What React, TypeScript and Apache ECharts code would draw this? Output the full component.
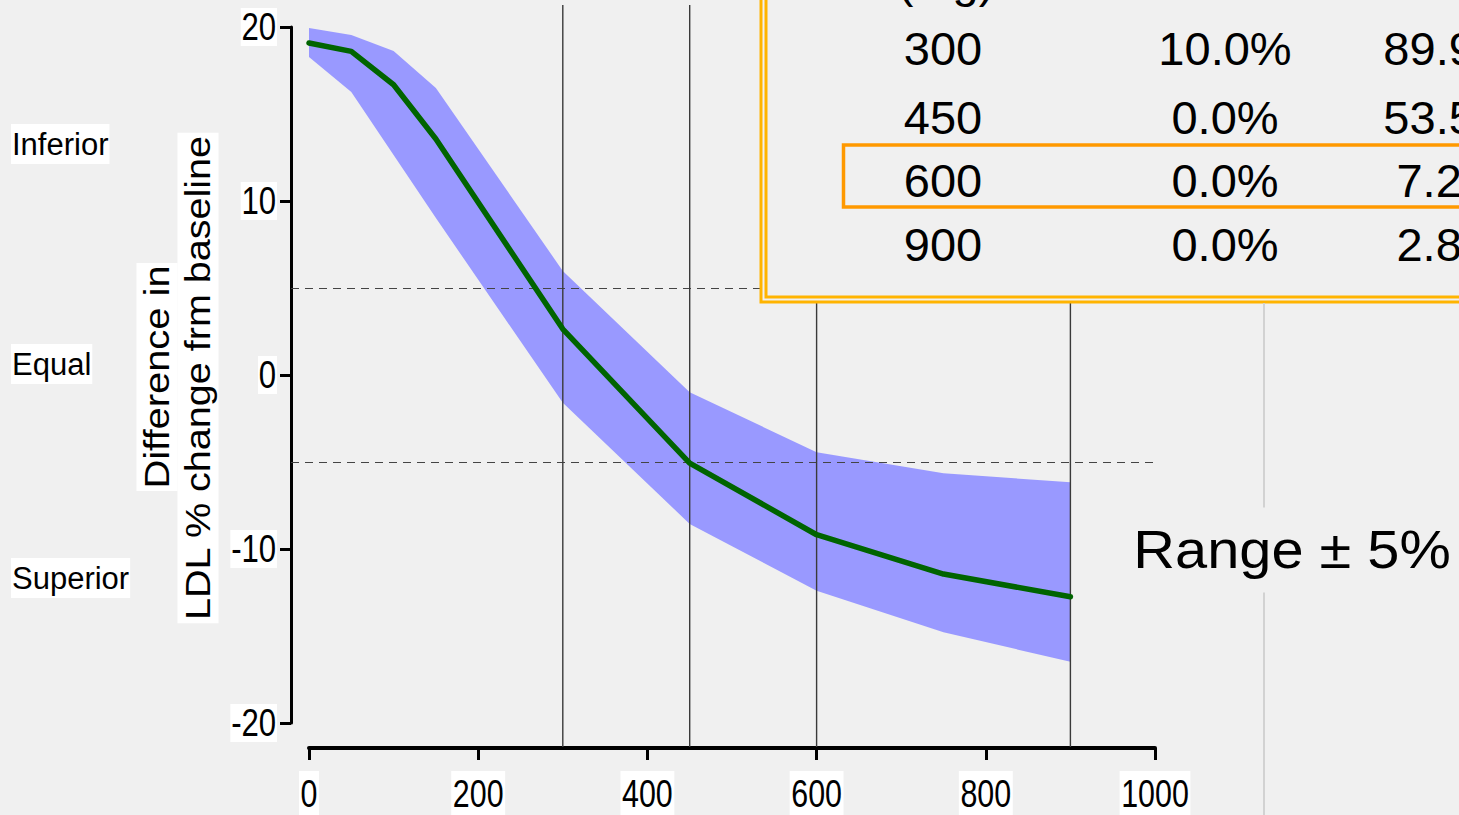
import React, { useEffect, useRef } from "react";
import * as echarts from "echarts";

// ---- data ----
const doses = [0, 50, 100, 150, 300, 450, 600, 750, 900];
const meanDiff = [19.08, 18.6, 16.68, 13.56, 2.64, -5.06, -9.18, -11.44, -12.74];
const upperBound = [19.94, 19.54, 18.62, 16.49, 5.98, -0.99, -4.44, -5.65, -6.17];
const lowerBound = [18.28, 16.26, 12.64, 9.02, -1.6, -8.56, -12.4, -14.79, -16.48];
const refLines = [5, -5];
const doseMarkers = [300, 450, 600, 900];

const xTicks = [0, 200, 400, 600, 800, 1000];
const xTickLabels = ["0", "200", "400", "600", "800", "1000"];
const yTicks = [-20, -10, 0, 10, 20];
const yTickLabels = ["-20", "-10", "0", "10", "20"];

const sideLabels = ["Inferior", "Equal", "Superior"];
const yTitleLines = ["Difference in", "LDL % change frm baseline"];
const rangeText = "Range \u00B1 5%";

const tableHeader = "(mg)";
const tableDoses = ["300", "450", "600", "900"];
const tableCol2 = ["10.0%", "0.0%", "0.0%", "0.0%"];
const tableCol3 = ["89.9%", "53.5%", "7.2%", "2.8%"];

const SANS = "'Liberation Sans', Arial, sans-serif";
const BG = "#f0f0f0";
const X_OFFSET = 25;
const Y_OFFSET = 18;

export default function App() {
  const ref = useRef<HTMLDivElement>(null);

  useEffect(() => {
    document.body.style.margin = "0";
    const chart = echarts.init(ref.current!, undefined, { renderer: "svg" });

    const sideY = [144, 364, 578];
    const rowY = [48, 117, 180, 244];

    const tableTexts: any[] = [];
    const cell = (text: string, x: number, y: number) => ({
      type: "text", x, y, z: 102,
      style: { text, fontSize: 47, fontFamily: SANS, fill: "#000", align: "center", verticalAlign: "middle" },
    });
    tableTexts.push(cell(tableHeader, 946, -20));
    tableDoses.forEach((d, i) => {
      tableTexts.push(cell(d, 943, rowY[i]));
      tableTexts.push(cell(tableCol2[i], 1225, rowY[i]));
      tableTexts.push(cell(tableCol3[i], 1450, rowY[i]));
    });

    const option: any = {
      animation: false,
      backgroundColor: BG,
      grid: { left: 309, right: 304, top: 27, bottom: 92, containLabel: false },
      xAxis: {
        type: "value", min: 0, max: 1000, interval: 200, offset: X_OFFSET,
        axisLine: { show: true, onZero: false, lineStyle: { color: "#000", width: 4 } },
        axisTick: { show: true, length: 12, lineStyle: { color: "#000", width: 3 } },
        splitLine: { show: false },
        axisLabel: { show: false },
      },
      yAxis: {
        type: "value", min: -20, max: 20, interval: 10, offset: Y_OFFSET,
        axisLine: { show: true, onZero: false, lineStyle: { color: "#000", width: 3 } },
        axisTick: { show: true, length: 11, lineStyle: { color: "#000", width: 3 } },
        splitLine: { show: false },
        axisLabel: { show: false },
      },
      series: [
        {
          type: "custom", name: "band", clip: false, z: 1, silent: true,
          data: [[0, 0]],
          renderItem: (_params: any, api: any) => {
            const pts: number[][] = [];
            for (let i = 0; i < doses.length; i++) pts.push(api.coord([doses[i], upperBound[i]]));
            for (let i = doses.length - 1; i >= 0; i--) pts.push(api.coord([doses[i], lowerBound[i]]));
            return { type: "polygon", shape: { points: pts }, style: { fill: "#9999ff", stroke: null } };
          },
        },
        {
          type: "custom", name: "ref", clip: false, z: 2, silent: true,
          data: refLines.map((v) => [0, v]),
          renderItem: (params: any, api: any) => {
            const cs = params.coordSys;
            const y = Math.round(api.coord([0, api.value(1)])[1]) + 0.5;
            return {
              type: "line",
              shape: { x1: cs.x - Y_OFFSET, y1: y, x2: cs.x + cs.width, y2: y },
              style: { stroke: "#444", lineWidth: 1, lineDash: [8, 6] },
            };
          },
        },
        {
          type: "custom", name: "dose", clip: false, z: 3, silent: true,
          data: doseMarkers.map((d) => [d, 0]),
          renderItem: (params: any, api: any) => {
            const cs = params.coordSys;
            const x = api.coord([api.value(0), 0])[0];
            return {
              type: "line",
              shape: { x1: x, y1: 5, x2: x, y2: cs.y + cs.height + X_OFFSET - 1 },
              style: { stroke: "#3a3a3a", lineWidth: 1.4 },
            };
          },
        },
        {
          type: "line", name: "mean", z: 5, showSymbol: false, silent: true,
          data: doses.map((d, i) => [d, meanDiff[i]]),
          lineStyle: { color: "#006400", width: 5.5, cap: "round", join: "round" },
        },
        {
          type: "custom", name: "xLabels", clip: false, z: 6, silent: true,
          data: xTicks.map((v, i) => [v, 0, i]),
          renderItem: (params: any, api: any) => {
            const cs = params.coordSys;
            const x = api.coord([api.value(0), 0])[0];
            const i = api.value(2);
            return {
              type: "text", x, y: cs.y + cs.height + X_OFFSET + 23, scaleX: 0.8,
              style: {
                text: xTickLabels[i], fontSize: 38, fontFamily: SANS, fill: "#000",
                align: "center", verticalAlign: "top", lineHeight: 40,
                backgroundColor: "#fff", padding: [3, 2, 1, 2],
              },
            };
          },
        },
        {
          type: "custom", name: "yLabels", clip: false, z: 6, silent: true,
          data: yTicks.map((v, i) => [0, v, i]),
          renderItem: (params: any, api: any) => {
            const cs = params.coordSys;
            const y = api.coord([0, api.value(1)])[1];
            const i = api.value(2);
            return {
              type: "text", x: cs.x - Y_OFFSET - 14, y, scaleX: 0.82,
              style: {
                text: yTickLabels[i], fontSize: 38, fontFamily: SANS, fill: "#000",
                align: "right", verticalAlign: "middle", lineHeight: 38,
                backgroundColor: "#fff", padding: [0, 1],
              },
            };
          },
        },
      ],
      graphic: [
        ...sideLabels.map((t, i) => ({
          type: "text", x: 11, y: sideY[i], z: 100,
          style: {
            text: t, fontSize: 31, fontFamily: SANS, fill: "#000", align: "left", verticalAlign: "middle",
            backgroundColor: "#fff", padding: [5, 1, 4, 1],
          },
        })),
        {
          type: "text", x: 157, y: 377, rotation: Math.PI / 2, scaleX: 1.14, z: 100,
          style: {
            text: yTitleLines[0], fontSize: 35, fontFamily: SANS, fill: "#000", align: "center", verticalAlign: "middle",
            backgroundColor: "#fff", padding: [3, 2],
          },
        },
        {
          type: "text", x: 198, y: 378, rotation: Math.PI / 2, scaleX: 1.13, z: 100,
          style: {
            text: yTitleLines[1], fontSize: 35, fontFamily: SANS, fill: "#000", align: "center", verticalAlign: "middle",
            backgroundColor: "#fff", padding: [3, 2],
          },
        },
        // table
        {
          type: "rect", z: 100,
          shape: { x: 761, y: -20, width: 800, height: 322 },
          style: { fill: BG, stroke: "#ffb400", lineWidth: 3 },
        },
        {
          type: "rect", z: 101,
          shape: { x: 766, y: -20, width: 800, height: 317 },
          style: { fill: "none", stroke: "#ffb400", lineWidth: 3 },
        },
        {
          type: "rect", z: 101,
          shape: { x: 843.5, y: 145, width: 700, height: 62 },
          style: { fill: "none", stroke: "#ff9900", lineWidth: 3.5 },
        },
        ...tableTexts,
        {
          type: "line", z: 100,
          shape: { x1: 1264, y1: 303, x2: 1264, y2: 815 },
          style: { stroke: "#d2d2d2", lineWidth: 2 },
        },
        {
          type: "text", x: 1129, y: 550, scaleX: 1.09, z: 101,
          style: {
            text: rangeText, fontSize: 53, fontFamily: SANS, fill: "#000", align: "left", verticalAlign: "middle",
            backgroundColor: BG, padding: [16, 4],
          },
        },
      ],
    };

    chart.setOption(option);
    return () => chart.dispose();
  }, []);

  return (
    <div
      ref={ref}
      style={{ position: "fixed", left: 0, top: 0, width: 1459, height: 815, background: BG }}
    />
  );
}
